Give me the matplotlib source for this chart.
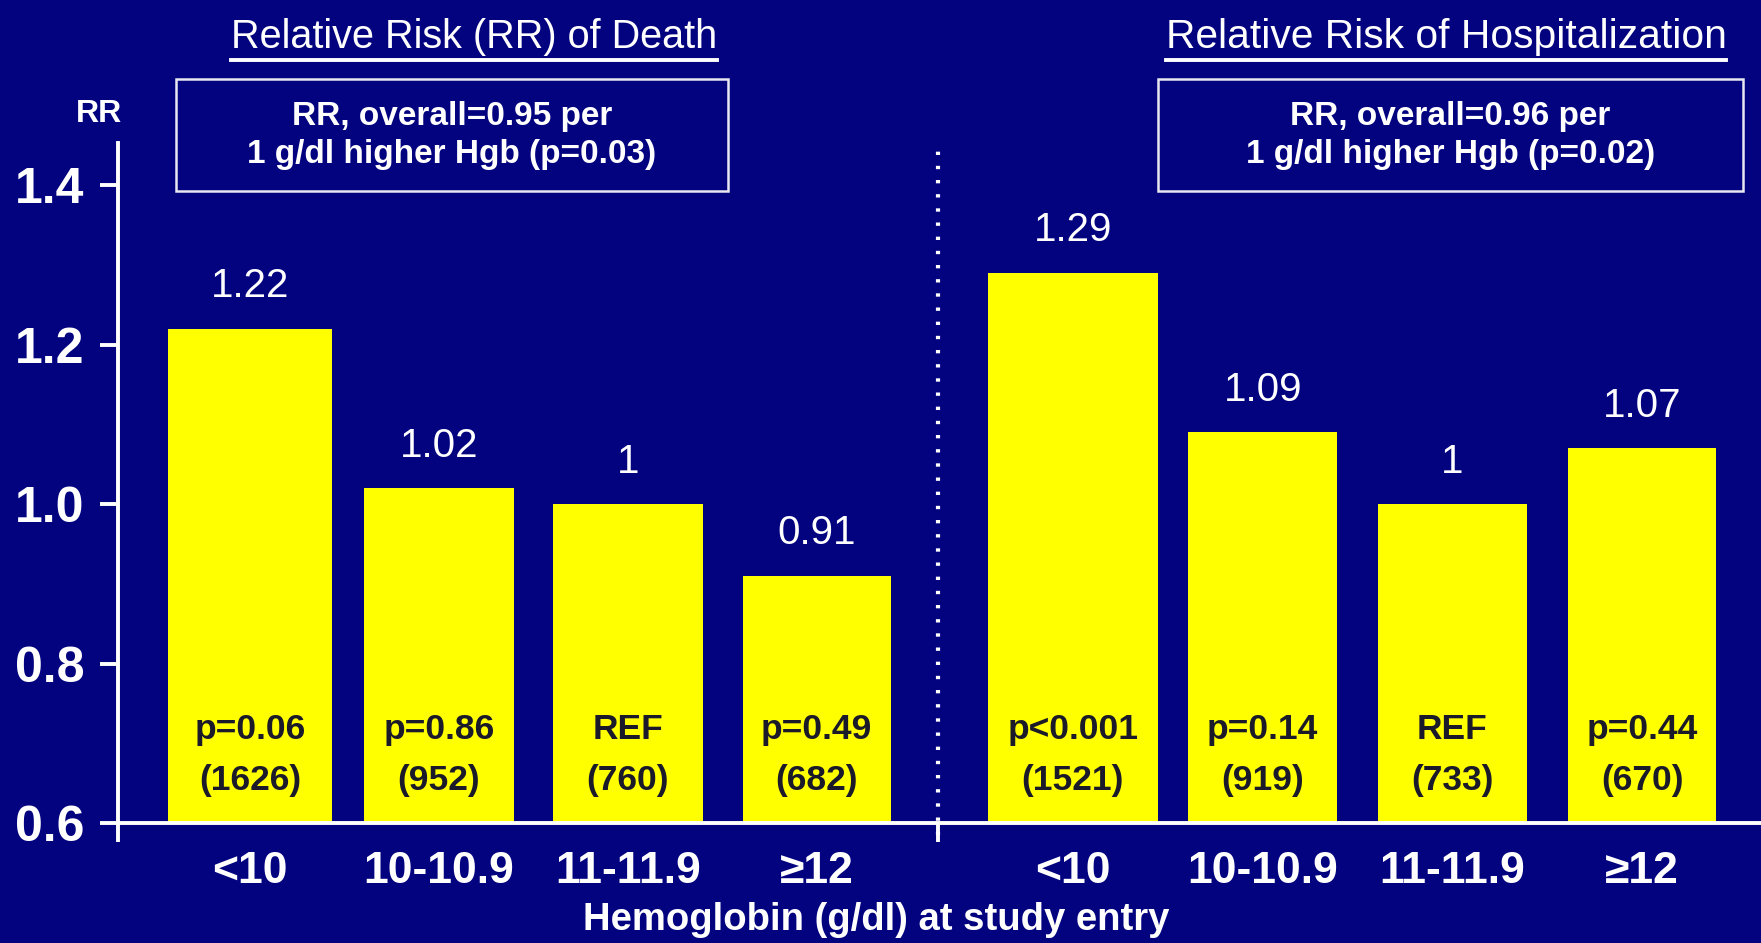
import numpy as np
import matplotlib
matplotlib.use("Agg")
import matplotlib.pyplot as plt
from matplotlib.lines import Line2D

plt.rcParams['font.family'] = ['Liberation Sans', 'DejaVu Sans']

# data
categories = ['<10', '10-10.9', '11-11.9', '≥12']
death_rr = [1.22, 1.02, 1.00, 0.91]
death_rr_labels = ['1.22', '1.02', '1', '0.91']
death_p = ['p=0.06', 'p=0.86', 'REF', 'p=0.49']
death_n = ['(1626)', '(952)', '(760)', '(682)']
hosp_rr = [1.29, 1.09, 1.00, 1.07]
hosp_rr_labels = ['1.29', '1.09', '1', '1.07']
hosp_p = ['p<0.001', 'p=0.14', 'REF', 'p=0.44']
hosp_n = ['(1521)', '(919)', '(733)', '(670)']
yticks = [0.6, 0.8, 1.0, 1.2, 1.4]
ytick_labels = ['0.6', '0.8', '1.0', '1.2', '1.4']

BG = '#03037f'
YEL = '#ffff00'
TXT = '#1a1a2a'

fig = plt.figure(figsize=(17.61, 9.43), dpi=100, facecolor=BG)
ax = fig.add_axes([118 / 1761, 120 / 943, 1 - 118 / 1761, (823 - 143) / 943])
ax.set_facecolor(BG)

left_x = np.arange(4) * 1.01
right_x = 4.4 + np.arange(4) * 1.015
left_w = [0.88, 0.8, 0.8, 0.79]
right_w = [0.91, 0.8, 0.8, 0.79]

ax.bar(left_x, np.array(death_rr) - 0.6, bottom=0.6, width=left_w, color=YEL, zorder=2)
ax.bar(right_x, np.array(hosp_rr) - 0.6, bottom=0.6, width=right_w, color=YEL, zorder=2)

ax.set_xlim(-0.706, 8.08)
ax.set_ylim(0.6, 1.453)

for xs, vals, labs, ps, ns in [(left_x, death_rr, death_rr_labels, death_p, death_n),
                               (right_x, hosp_rr, hosp_rr_labels, hosp_p, hosp_n)]:
    for x, v, lab, p, n in zip(xs, vals, labs, ps, ns):
        ax.annotate(lab, (x, v), xytext=(0, 17), textcoords='offset points',
                    ha='center', va='bottom', color='white', fontsize=29)
        ax.text(x, 0.717, p, ha='center', va='center', color=TXT,
                fontsize=25.5, fontweight='bold', zorder=3)
        ax.text(x, 0.653, n, ha='center', va='center', color=TXT,
                fontsize=25.5, fontweight='bold', zorder=3)

for xs in (left_x, right_x):
    for x, c in zip(xs, categories):
        ax.text(x, 0.539, c, ha='center', va='center', color='white',
                fontsize=32, fontweight='bold', clip_on=False)

# axes styling
for s in ('top', 'right'):
    ax.spines[s].set_visible(False)
for s in ('left', 'bottom'):
    ax.spines[s].set_color('white')
    ax.spines[s].set_linewidth(2.8)
ax.set_yticks(yticks)
ax.set_yticklabels(ytick_labels)
ax.tick_params(axis='y', colors='white', labelsize=36, length=13, width=2.8, pad=11)
for t in ax.get_yticklabels():
    t.set_fontweight('bold')
ax.set_xticks([-0.706, 3.68])
ax.set_xticklabels([])
ax.tick_params(axis='x', colors='white', length=14, width=2.8)

# dotted divider
ax.plot([3.68, 3.68], [0.585, 1.445], color='white', lw=3,
        linestyle=(0, (0.8, 2.6)), clip_on=False, zorder=3)

# titles / annotations (figure pixel coords)
def fx(px):
    return px / 1761

def fy(py):
    return 1 - py / 943

fig.text(fx(99), fy(114), 'RR', ha='center', va='center', color='white',
         fontsize=23, fontweight='bold')

titles = [(474, 'Relative Risk (RR) of Death', 28.5),
          (1446, 'Relative Risk of Hospitalization', 29.3)]
title_objs = []
for x, t, fs in titles:
    title_objs.append(fig.text(fx(x), fy(37), t, ha='center', va='center',
                               color='white', fontsize=fs))

boxes = [(176, 728, '0.95', '0.03'), (1158, 1743, '0.96', '0.02')]
for x0, x1, rr, p in boxes:
    fig.patches.append(plt.Rectangle((fx(x0), fy(191)), fx(x1 - x0), (191 - 79) / 943,
                                     transform=fig.transFigure, fill=False,
                                     edgecolor='#e8e8f0', lw=1.8))
    cx = fx((x0 + x1) / 2)
    fig.text(cx, fy(116), f'RR, overall={rr} per', ha='center', va='center',
             color='white', fontsize=24, fontweight='bold')
    fig.text(cx, fy(154), f'1 g/dl higher Hgb (p={p})', ha='center', va='center',
             color='white', fontsize=24, fontweight='bold')

fig.text(fx(876), fy(920), 'Hemoglobin (g/dl) at study entry', ha='center',
         va='center', color='white', fontsize=27.5, fontweight='bold')

# underline titles
fig.canvas.draw()
r = fig.canvas.get_renderer()
for t in title_objs:
    bb = t.get_window_extent(r).transformed(fig.transFigure.inverted())
    fig.lines.append(Line2D([bb.x0, bb.x1], [bb.y0 - 0.004, bb.y0 - 0.004],
                            transform=fig.transFigure, color='white', lw=2.8))

fig.savefig('out.png', dpi=100, facecolor=BG)
